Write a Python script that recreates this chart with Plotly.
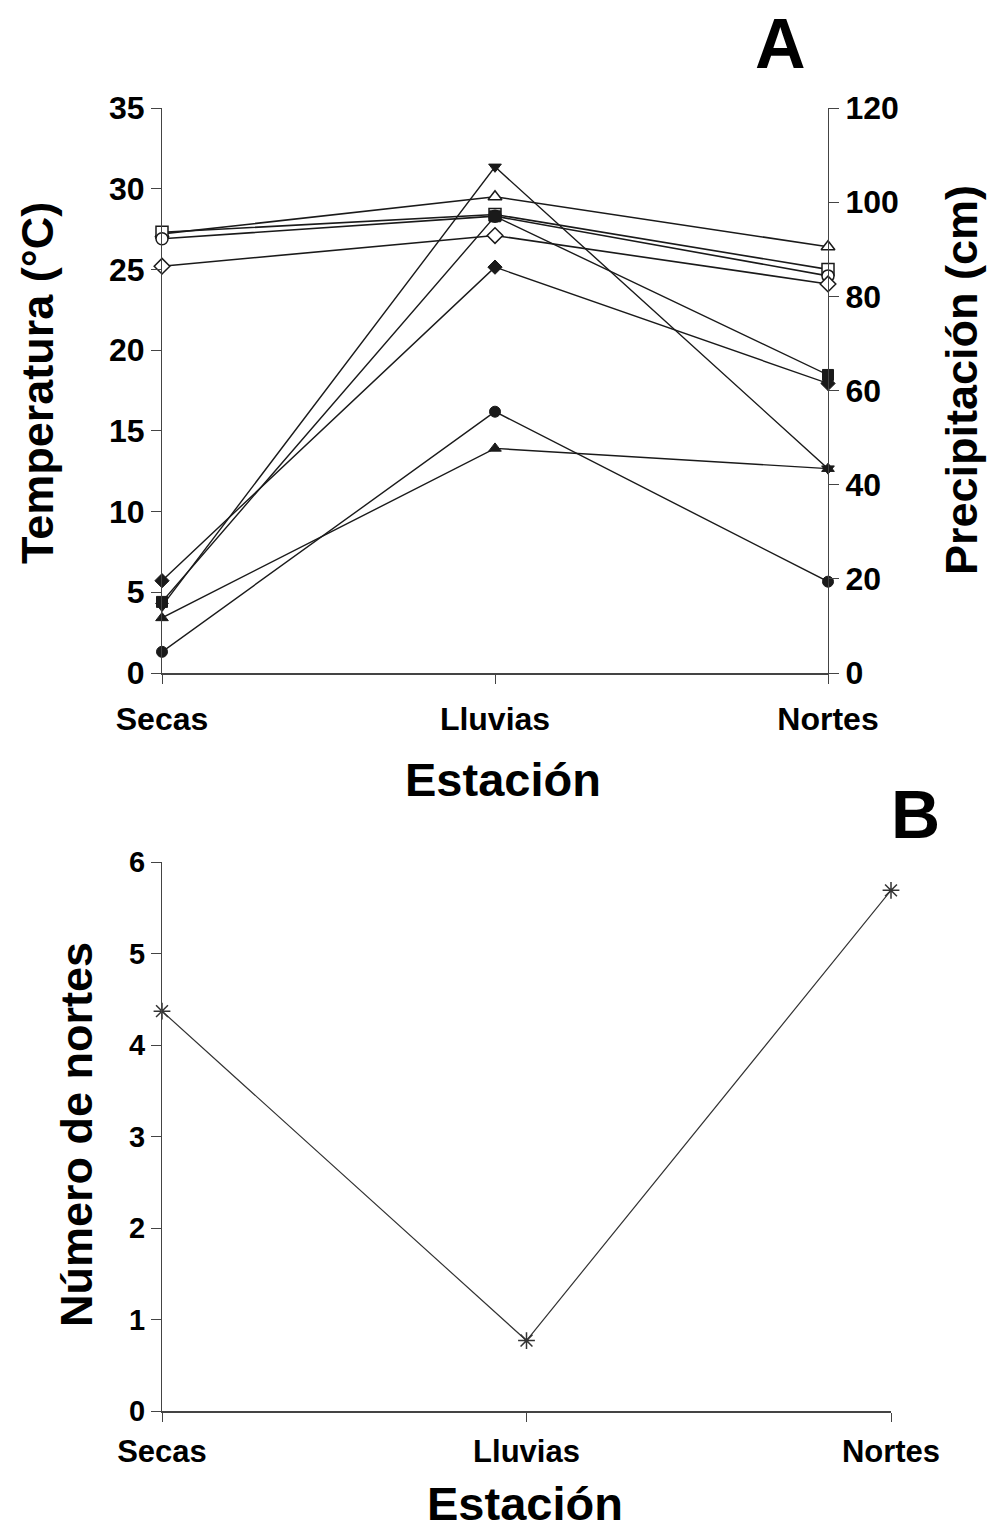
import plotly.graph_objects as go

W, H = 990, 1529

seasons = ["Secas", "Lluvias", "Nortes"]
xpos = [0, 1, 2]

# Temperatura (°C) - open markers, left axis
temp_triangle = [27.2, 29.5, 26.4]
temp_square = [27.3, 28.4, 25.0]
temp_circle = [26.9, 28.3, 24.6]
temp_diamond = [25.2, 27.1, 24.1]

# Precipitación (cm) - filled markers, right axis
prec_tri_down = [14.2, 107.5, 43.4]
prec_square = [15.1, 97.0, 63.3]
prec_diamond = [19.6, 86.2, 61.5]
prec_tri_up = [11.7, 47.7, 43.4]
prec_circle = [4.5, 55.5, 19.4]

# Número de nortes
nortes = [4.37, 0.77, 5.69]

temp_ticks = [0, 5, 10, 15, 20, 25, 30, 35]
prec_ticks = [0, 20, 40, 60, 80, 100, 120]
nortes_ticks = [0, 1, 2, 3, 4, 5, 6]

FONT = "Liberation Sans, Arial, sans-serif"
LC = "#1a1a1a"
AX = "#444444"


def px_x(p):
    return p / W


def px_y(p):
    return 1 - p / H


fig = go.Figure()

open_series = [
    (temp_triangle, "triangle-up"),
    (temp_square, "square"),
    (temp_circle, "circle"),
    (temp_diamond, "diamond"),
]
filled_series = [
    (prec_tri_down, "triangle-down"),
    (prec_square, "square"),
    (prec_diamond, "diamond"),
    (prec_tri_up, "triangle-up"),
    (prec_circle, "circle"),
]

for vals, sym in filled_series:
    fig.add_trace(go.Scatter(
        x=xpos, y=vals, xaxis="x", yaxis="y2", mode="lines+markers",
        line=dict(color=LC, width=1.4),
        marker=dict(symbol=sym, size=11, color=LC, line=dict(color=LC, width=1)),
        cliponaxis=False, showlegend=False))

for vals, sym in open_series:
    fig.add_trace(go.Scatter(
        x=xpos, y=vals, xaxis="x", yaxis="y", mode="lines+markers",
        line=dict(color=LC, width=1.6),
        marker=dict(symbol=sym, size=12, color="white", line=dict(color=LC, width=1.5)),
        cliponaxis=False, showlegend=False))

fig.add_trace(go.Scatter(
    x=xpos, y=nortes, xaxis="x2", yaxis="y3", mode="lines+markers",
    line=dict(color="#333333", width=1.2),
    marker=dict(symbol="asterisk-open", size=14, line=dict(color=LC, width=1.5)),
    cliponaxis=False, showlegend=False))

tickfont = dict(family=FONT, size=32, color="black", weight="bold")
tickfontB = dict(family=FONT, size=29, color="black", weight="bold")
tickfontBx = dict(family=FONT, size=31, color="black", weight="bold")

common_x = dict(range=[0, 2], tickvals=xpos, ticktext=seasons, showline=True,
                linecolor=AX, linewidth=2, ticks="outside", ticklen=9, tickcolor=AX,
                tickwidth=1, showgrid=False, zeroline=False, fixedrange=True,
                automargin=False)
common_y = dict(showline=True, linecolor=AX, linewidth=1, ticks="outside", ticklen=10,
                tickcolor=AX, tickwidth=1, showgrid=False, zeroline=False, fixedrange=True,
                automargin=False)

fig.update_layout(
    width=W, height=H,
    margin=dict(l=0, r=0, t=0, b=0),
    paper_bgcolor="white", plot_bgcolor="white",
    xaxis=dict(domain=[px_x(162), px_x(828)], anchor="y", tickfont=tickfont,
               ticklabelstandoff=8, **common_x),
    yaxis=dict(domain=[px_y(673), px_y(108)], anchor="x", range=[0, 35],
               tickvals=temp_ticks, tickfont=tickfont, **common_y),
    yaxis2=dict(overlaying="y", side="right", anchor="x", range=[0, 120],
                tickvals=prec_ticks, tickfont=tickfont, **common_y),
    xaxis2=dict(domain=[px_x(162), px_x(891)], anchor="y3", tickfont=tickfontBx,
                ticklabelstandoff=3, **common_x),
    yaxis3=dict(domain=[px_y(1411), px_y(862)], anchor="x2", range=[0, 6],
                tickvals=nortes_ticks, tickfont=tickfontB, **common_y),
)

title_font = dict(family=FONT, size=45, color="black")
annotations = [
    dict(text="<b>Temperatura (°C)</b>", x=px_x(37), y=px_y(383), textangle=-90, font=title_font),
    dict(text="<b>Precipitación (cm)</b>", x=px_x(962), y=px_y(380), textangle=-90, font=title_font),
    dict(text="<b>Estación</b>", x=px_x(503), y=px_y(780), font=dict(family=FONT, size=47, color="black")),
    dict(text="<b>A</b>", x=px_x(780), y=px_y(44), font=dict(family=FONT, size=70, color="black")),
    dict(text="<b>Número de nortes</b>", x=px_x(76), y=px_y(1135), textangle=-90, font=title_font),
    dict(text="<b>Estación</b>", x=px_x(525), y=px_y(1503), font=dict(family=FONT, size=47, color="black")),
    dict(text="<b>B</b>", x=px_x(915), y=px_y(814), font=dict(family=FONT, size=68, color="black")),
]
for a in annotations:
    a.update(xref="paper", yref="paper", showarrow=False, xanchor="center", yanchor="middle")
fig.update_layout(annotations=annotations)

fig.write_html("out.html")
